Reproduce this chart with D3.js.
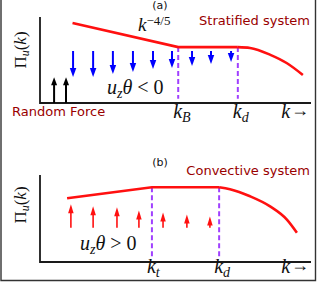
<!DOCTYPE html>
<html>
<head>
<meta charset="utf-8">
<script src="https://cdn.jsdelivr.net/npm/d3@7"></script>
<style>
  body { margin: 0; background: #fff; }
  .sans { font-family: 'DejaVu Sans', sans-serif; }
  .math { font-family: 'Liberation Serif', serif; fill: #111; }
  .it { font-style: italic; }
</style>
</head>
<body>
<div id="fig"></div>
<script>
'use strict';

// panel (a): stratified flux, straight k^-4/5 part then flat then roll-off
var stratK = [12, 51, 73, 77.5, 85, 91, 97];
var stratPi = [93, 65, 65, 64, 56, 46.5, 32.6];
var stratTicks = [51, 73];
var stratTickNames = ['B', 'd'];
var downK = [12.2, 19.6, 26.9, 34.3, 41.7, 48.7, 56.1, 63.1, 70.5];
var downTop = [60.5, 60.5, 60.5, 60.5, 60.5, 60.5, 60.5, 60.5, 60.5];
var downBottom = [30.2, 30.2, 33.7, 36.0, 39.5, 40.7, 43.0, 45.3, 47.7];
var forceK = [5.2, 9.6];
var forceTop = [30, 30];

// panel (b): convective flux
var convK = [10, 41.3, 66.1, 70.1, 77.5, 84.9, 91.1, 94.8];
var convPi = [73.3, 86, 86, 83.7, 75.6, 64, 48.8, 33.7];
var convTicks = [41.3, 66.1];
var convTickNames = ['t', 'd'];
var upK = [11.4, 19.6, 28.4, 36.5, 45.4, 54.2, 62.7];
var upBottom = [39.5, 39.5, 39.5, 39.5, 39.5, 39.5, 39.5];
var upTop = [66.3, 64.0, 62.8, 59.3, 57.0, 54.7, 52.3];

var myChart = {};
myChart.width = 317;
myChart.height = 282;
myChart.red = '#ff1010';
myChart.darkRed = '#990000';
myChart.purple = '#a040ff';

myChart.appendSVG = function(div){
    var svg = d3.select(div).append('svg')
                .attr('width', myChart.width)
                .attr('height', myChart.height);
    // outer frame (left, bottom, right)
    svg.append('path')
        .attr('d', 'M1,0V280.5H315.5V0')
        .attr('fill', 'none')
        .attr('stroke', '#333')
        .attr('stroke-width', 1.4);
    return svg;
}

myChart.makeScales = function(yBottom, yTop){
    return {
        x: d3.scaleLinear().domain([0, 100]).range([40, 311]),
        y: d3.scaleLinear().domain([0, 100]).range([yBottom, yTop])
    };
}

myChart.drawAxes = function(g, s){
    var p = d3.path();
    p.moveTo(s.x(0), s.y(100));
    p.lineTo(s.x(0), s.y(0));
    p.lineTo(s.x(100), s.y(0));
    g.append('path')
        .attr('d', p.toString())
        .attr('fill', 'none')
        .attr('stroke', '#1a1a1a')
        .attr('stroke-width', 1.8);
}

myChart.drawCurve = function(g, s, ks, pis, knee){
    var pts = ks.map(function(k, i){ return [k, pis[i]]; });
    var straight = d3.line()
        .x(function(d){ return s.x(d[0]); })
        .y(function(d){ return s.y(d[1]); });
    var rounded = d3.line()
        .x(function(d){ return s.x(d[0]); })
        .y(function(d){ return s.y(d[1]); })
        .curve(d3.curveMonotoneX);
    g.append('path')
        .attr('d', straight(pts.slice(0, knee + 1)))
        .attr('fill', 'none')
        .attr('stroke', myChart.red)
        .attr('stroke-width', 2.6);
    g.append('path')
        .attr('d', rounded(pts.slice(knee)))
        .attr('fill', 'none')
        .attr('stroke', myChart.red)
        .attr('stroke-width', 2.6)
        .attr('stroke-linecap', 'butt');
}

myChart.drawDashes = function(g, s, ticks, level){
    g.selectAll('.dash')
        .data(ticks)
        .enter()
            .append('line')
            .attr('x1', function(d){ return s.x(d); })
            .attr('x2', function(d){ return s.x(d); })
            .attr('y1', s.y(level))
            .attr('y2', s.y(5))
            .attr('stroke', myChart.purple)
            .attr('stroke-width', 2)
            .attr('stroke-dasharray', '5,3');
}

// arrow from (k, from) to (k, to); head drawn as a triangle
myChart.drawArrows = function(g, s, ks, from, to, color, sw, headW, headL){
    var arrows = g.selectAll(null)
        .data(ks.map(function(k, i){ return {k: k, a: from[i], b: to[i]}; }))
        .enter().append('g');
    arrows.append('line')
        .attr('x1', function(d){ return s.x(d.k); })
        .attr('x2', function(d){ return s.x(d.k); })
        .attr('y1', function(d){ return s.y(d.a); })
        .attr('y2', function(d){
            var dir = s.y(d.b) > s.y(d.a) ? 1 : -1;
            return s.y(d.b) - dir * (headL - 1);
        })
        .attr('stroke', color)
        .attr('stroke-width', sw);
    arrows.append('path')
        .attr('d', function(d){
            var x = s.x(d.k), y = s.y(d.b);
            var dir = y > s.y(d.a) ? 1 : -1;
            return 'M' + x + ',' + y +
                   'L' + (x - headW / 2) + ',' + (y - dir * headL) +
                   'L' + (x + headW / 2) + ',' + (y - dir * headL) + 'Z';
        })
        .attr('fill', color);
}

myChart.kLabels = function(g, s, ticks, names, baseline){
    var t = g.selectAll(null)
        .data(ticks)
        .enter()
            .append('text')
            .attr('class', 'math')
            .attr('x', function(d){ return s.x(d) - 5; })
            .attr('y', baseline)
            .style('font-size', '20px');
    t.append('tspan').attr('class', 'it').text('k');
    t.append('tspan').attr('class', 'it')
        .attr('dy', 4).style('font-size', '14px')
        .text(function(d, i){ return names[i]; });

    var kk = g.append('text')
        .attr('class', 'math')
        .attr('x', s.x(89))
        .attr('y', baseline)
        .style('font-size', '20px');
    kk.append('tspan').attr('class', 'it').text('k');
    kk.append('tspan').style('font-size', '18px').attr('dx', 1).attr('dy', -2).text('\u2192');
}

myChart.yLabel = function(g, cy){
    var t = g.append('text')
        .attr('class', 'math')
        .attr('text-anchor', 'middle')
        .attr('transform', 'translate(26,' + cy + ') rotate(-90)')
        .style('font-size', '17px');
    t.append('tspan').text('\u03A0');
    t.append('tspan').attr('class', 'it').attr('dy', 3).style('font-size', '12px').text('u');
    t.append('tspan').attr('dy', -3).text('(');
    t.append('tspan').attr('class', 'it').text('k');
    t.append('tspan').text(')');
}

myChart.flux = function(g, x, y, sign){
    var t = g.append('text')
        .attr('class', 'math')
        .attr('x', x).attr('y', y)
        .style('font-size', '20px');
    t.append('tspan').attr('class', 'it').text('u');
    t.append('tspan').attr('class', 'it').attr('dy', 4).style('font-size', '14px').text('z');
    t.append('tspan').attr('class', 'it').attr('dy', -4).text('\u03B8');
    t.append('tspan').text(' ' + sign + ' 0');
}

myChart.panelA = function(svg){
    var g = svg.append('g');
    var s = myChart.makeScales(103, 17);
    myChart.drawAxes(g, s);
    myChart.drawDashes(g, s, stratTicks, stratPi[1]);
    myChart.drawCurve(g, s, stratK, stratPi, 2);
    myChart.drawArrows(g, s, downK, downTop, downBottom, '#0000ff', 2, 6.5, 9);
    myChart.drawArrows(g, s, forceK, [0, 0], forceTop, '#000', 2, 6, 8);
    myChart.kLabels(g, s, stratTicks, stratTickNames, 118);
    myChart.yLabel(g, 50);
    myChart.flux(g, 107, 94, '<');

    var kp = g.append('text').attr('class', 'math')
        .attr('x', 138).attr('y', 31).style('font-size', '19px');
    kp.append('tspan').attr('class', 'it').text('k');
    kp.append('tspan').attr('dy', -6).style('font-size', '13px').text('\u22124/5');

    g.append('text').attr('class', 'sans')
        .attr('x', 160).attr('y', 9).attr('text-anchor', 'middle')
        .style('font-size', '11px').attr('fill', '#111').text('(a)');
    g.append('text').attr('class', 'sans')
        .attr('x', 310).attr('y', 25).attr('text-anchor', 'end')
        .style('font-size', '13px').attr('fill', myChart.darkRed).text('Stratified system');
    g.append('text').attr('class', 'sans')
        .attr('x', 12).attr('y', 116)
        .style('font-size', '13px').attr('fill', myChart.darkRed).text('Random Force');
}

myChart.panelB = function(svg){
    var g = svg.append('g');
    var s = myChart.makeScales(262, 175);
    myChart.drawAxes(g, s);
    myChart.drawDashes(g, s, convTicks, convPi[1]);
    myChart.drawCurve(g, s, convK, convPi, 2);
    myChart.drawArrows(g, s, upK, upBottom, upTop, myChart.red, 1.6, 5.5, 9);
    myChart.kLabels(g, s, convTicks, convTickNames, 273);
    myChart.yLabel(g, 205);
    myChart.flux(g, 80, 250, '>');

    g.append('text').attr('class', 'sans')
        .attr('x', 160).attr('y', 166).attr('text-anchor', 'middle')
        .style('font-size', '11px').attr('fill', '#111').text('(b)');
    g.append('text').attr('class', 'sans')
        .attr('x', 310).attr('y', 175).attr('text-anchor', 'end')
        .style('font-size', '13px').attr('fill', myChart.darkRed).text('Convective system');
}

myChart.run = function(){
    var svg = myChart.appendSVG('#fig');
    myChart.panelA(svg);
    myChart.panelB(svg);
}

window.onload = myChart.run;
</script>
</body>
</html>
